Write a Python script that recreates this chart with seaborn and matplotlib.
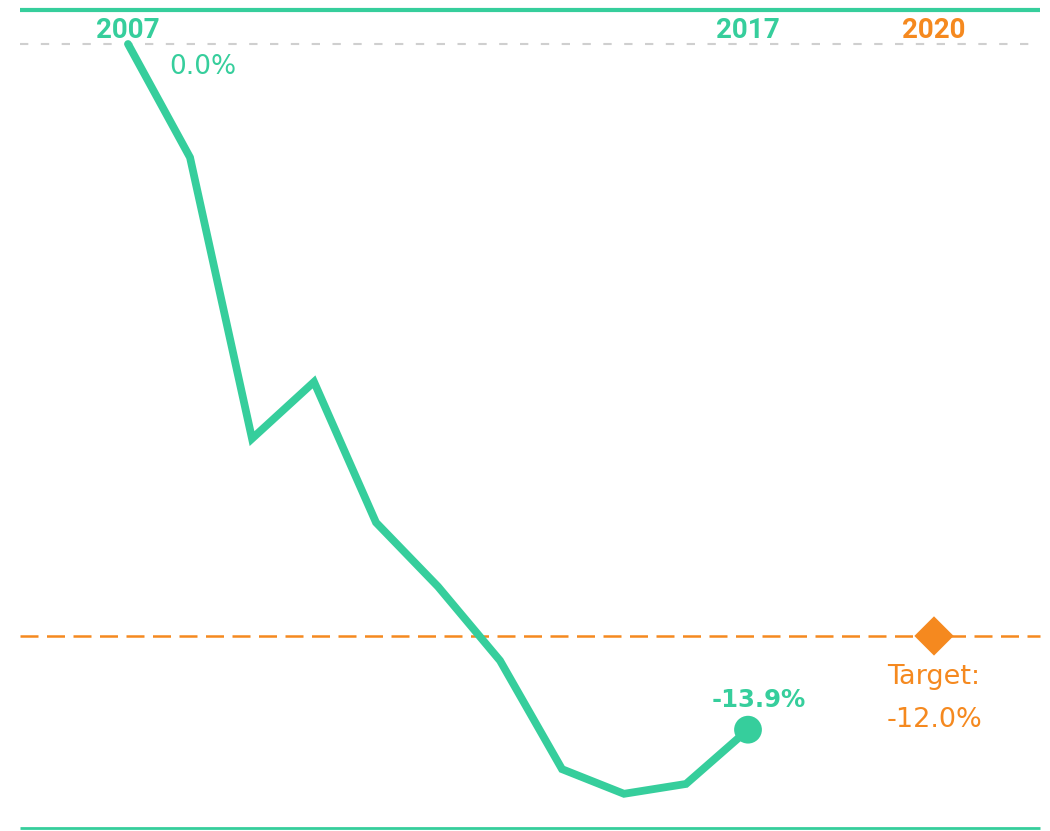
import matplotlib
matplotlib.use("Agg")
import matplotlib.pyplot as plt
import seaborn as sns
import pandas as pd

# Emissions change relative to 2007 (%)
years = [2007, 2008, 2009, 2010, 2011, 2012, 2013, 2014, 2015, 2016, 2017]
change = [0.0, -2.3, -8.0, -6.85, -9.7, -11.0, -12.5, -14.7, -15.2, -15.0, -13.9]
target_year = 2020
target_value = -12.0

TEAL = "#36CE9C"
ORANGE = "#F5891F"
GREY = "#CFCFCF"

sns.set_theme(style="white")
plt.rcParams["font.family"] = ["DejaVu Sans"]

df = pd.DataFrame({"year": years, "change": change})

fig = plt.figure(figsize=(10.5, 8.31), dpi=100)
ax = fig.add_axes([0, 0, 1, 1])
ax.set_xlim(2004.935, 2021.871)
ax.set_ylim(-15.954, 0.892)
ax.axis("off")

# frame lines and reference lines
x0, x1 = 2004.935 + 20 / 62, 2004.935 + 1040 / 62
ax.plot([x0, x1], [0.68, 0.68], color=TEAL, lw=3, solid_capstyle="butt")
ax.plot([x0, x1], [-15.89, -15.89], color=TEAL, lw=2, solid_capstyle="butt")
ax.plot([x0, 2004.935 + 1035 / 62], [0, 0], color=GREY, lw=1.5,
        dashes=(4, 6), zorder=1)
ax.plot([x0, x1], [target_value, target_value], color=ORANGE, lw=1.8,
        dashes=(7.2, 3.4), zorder=1)

sns.lineplot(data=df, x="year", y="change", ax=ax, color=TEAL, lw=5.6,
             solid_joinstyle="miter", zorder=3)
sns.scatterplot(x=[years[-1]], y=[change[-1]], ax=ax, color=TEAL, s=400,
                edgecolor="none", zorder=4)
sns.scatterplot(x=[target_year], y=[target_value], ax=ax, color=ORANGE,
                marker="D", s=400, edgecolor="none", zorder=4)
ax.set_xlabel("")
ax.set_ylabel("")

# year labels above the zero line
year_font = dict(fontsize=20, fontweight="bold",
                 family=["Roboto", "DejaVu Sans"], ha="center", va="center")
ax.text(years[0], 0.28, str(years[0]), color=TEAL, **year_font)
ax.text(years[-1], 0.28, str(years[-1]), color=TEAL, **year_font)
ax.text(target_year, 0.28, str(target_year), color=ORANGE, **year_font)

# value labels
ax.text(years[0] + 1.2, -0.47, f"{change[0]:.1f}%", color=TEAL,
        fontsize=19, ha="center", va="center")
ax.text(years[-1] + 0.18, change[-1] + 0.6, f"{change[-1]:.1f}%",
        color=TEAL, fontsize=17.5, fontweight="bold", ha="center", va="center")
ax.text(target_year, target_value - 0.83, "Target:", color=ORANGE,
        fontsize=19.5, ha="center", va="center")
ax.text(target_year, target_value - 1.7, f"{target_value:.1f}%",
        color=ORANGE, fontsize=19.5, ha="center", va="center")

fig.savefig("out.png", dpi=100, facecolor="white")
